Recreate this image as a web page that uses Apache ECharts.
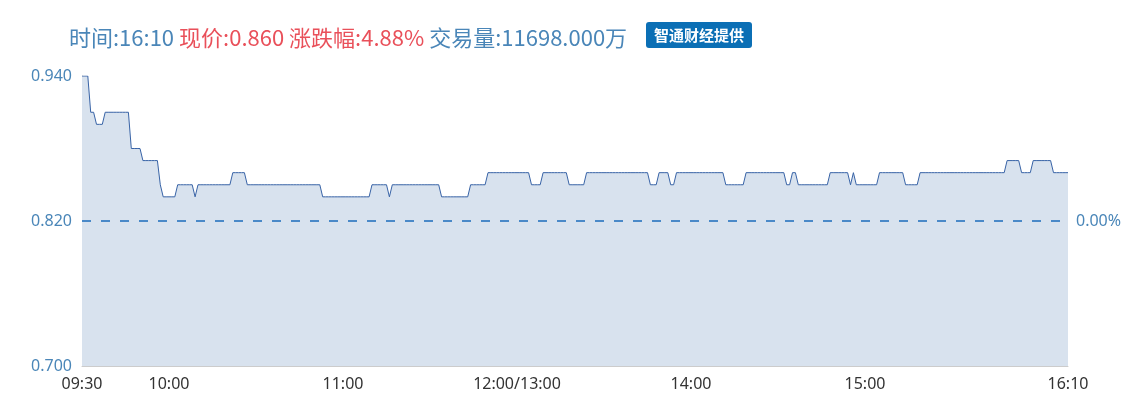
<!DOCTYPE html>
<html>
<head>
<meta charset="utf-8">
<script src="https://cdn.jsdelivr.net/npm/echarts@6/dist/echarts.min.js"></script>
<style>
  html, body { margin: 0; padding: 0; background: #fff; }
  #main { width: 1135px; height: 411px; }
</style>
</head>
<body>
<div id="main"></div>
<script>
// 分时数据：每段 [价格, 持续分钟数]，09:30-12:00 / 13:00-16:10 共 341 个点
var priceRuns = [
    [0.94, 3], [0.91, 2], [0.90, 3], [0.91, 9], [0.88, 4], [0.87, 6],
    [0.85, 1], [0.84, 5], [0.85, 6], [0.84, 1], [0.85, 12], [0.86, 5],
    [0.85, 26], [0.84, 17], [0.85, 6], [0.84, 1], [0.85, 17], [0.84, 10],
    [0.85, 6], [0.86, 15], [0.85, 4], [0.86, 9], [0.85, 6], [0.86, 22],
    [0.85, 3], [0.86, 4], [0.85, 2], [0.86, 17], [0.85, 7], [0.86, 14],
    [0.85, 2], [0.86, 2], [0.85, 11], [0.86, 7], [0.85, 1], [0.86, 1],
    [0.85, 8], [0.86, 9], [0.85, 5], [0.86, 30], [0.87, 5], [0.86, 4],
    [0.87, 7], [0.86, 6]
];
var sessions = [['09:30', '12:00'], ['13:00', '16:10']];
var tickIndex = [0, 30, 90, 150, 210, 270, 340];
var tickLabels = ['09:30', '10:00', '11:00', '12:00/13:00', '14:00', '15:00', '16:10'];
var yTicks = [0.700, 0.820, 0.940];
var basePrice = 0.820;   // 昨收
var header = {time: '16:10', price: '0.860', change: '4.88%', volume: '11698.000万'};

function toMin(s) { var p = s.split(':'); return +p[0] * 60 + +p[1]; }
function fmt(m) { var h = Math.floor(m / 60), mm = m % 60; return (h < 10 ? '0' : '') + h + ':' + (mm < 10 ? '0' : '') + mm; }

var times = [];
sessions.forEach(function (s, si) {
    var a = toMin(s[0]), b = toMin(s[1]);
    for (var m = a; m <= b; m++) {
        if (si > 0 && m === a) continue; // 午间休市合并为一个点
        times.push(fmt(m));
    }
});

var prices = [];
priceRuns.forEach(function (r) {
    for (var k = 0; k < r[1]; k++) prices.push(r[0]);
});

var chart = echarts.init(document.getElementById('main'));
var blue = '#4a86b8';
var red = '#e9505a';

chart.setOption({
    animation: false,
    title: {
        left: 64, top: 22,
        text: '{a|时间:' + header.time + '} {b|现价:' + header.price + ' 涨跌幅:' + header.change + '} {a|交易量:' + header.volume + '}',
        textStyle: {
            fontWeight: 'normal',
            rich: {
                a: {color: blue, fontSize: 22, fontWeight: 'normal', fontFamily: 'Noto Sans CJK SC'},
                b: {color: red, fontSize: 22, fontWeight: 'normal', fontFamily: 'Noto Sans CJK SC'}
            }
        }
    },
    graphic: [{
        type: 'group', left: 646, top: 22,
        children: [
            {type: 'rect', shape: {x: 0, y: 0, width: 106, height: 26, r: 3}, style: {fill: '#0b6fb5'}},
            {type: 'text', x: 53, y: 13, style: {text: '智通财经提供', fill: '#fff', font: 'bold 15px "Noto Sans CJK SC"', align: 'center', verticalAlign: 'middle'}}
        ]
    }],
    grid: {left: 82, right: 67, top: 76, bottom: 45},
    xAxis: {
        type: 'category',
        boundaryGap: false,
        data: times,
        axisLine: {lineStyle: {color: '#cccccc'}},
        axisTick: {show: false},
        axisLabel: {
            color: '#333',
            fontSize: 16,
            fontFamily: 'Noto Sans',
            margin: 10,
            interval: function (i) { return tickIndex.indexOf(i) >= 0; },
            formatter: function (v, i) { var k = tickIndex.indexOf(i); return k >= 0 ? tickLabels[k] : ''; }
        },
        splitLine: {show: false}
    },
    yAxis: {
        type: 'value',
        min: yTicks[0],
        max: yTicks[2],
        interval: yTicks[1] - yTicks[0],
        axisLine: {show: true, lineStyle: {color: '#cccccc'}},
        axisTick: {show: false},
        splitLine: {show: false},
        axisLabel: {
            color: blue,
            fontSize: 16,
            fontFamily: 'Noto Sans',
            margin: 10,
            formatter: function (v) { return v.toFixed(3); }
        }
    },
    series: [{
        type: 'line',
        data: prices,
        symbol: 'none',
        lineStyle: {color: '#3863a6', width: 1},
        areaStyle: {color: '#d8e2ee', opacity: 1},
        markLine: {
            silent: true,
            symbol: 'none',
            lineStyle: {color: '#4a89c8', type: [9, 10], width: 2},
            label: {
                position: 'end',
                color: blue,
                fontSize: 16,
                fontFamily: 'Noto Sans',
                distance: 8,
                formatter: function (p) { return ((p.value - basePrice) / basePrice * 100).toFixed(2) + '%'; }
            },
            data: [{yAxis: basePrice}]
        }
    }]
});
</script>
</body>
</html>
